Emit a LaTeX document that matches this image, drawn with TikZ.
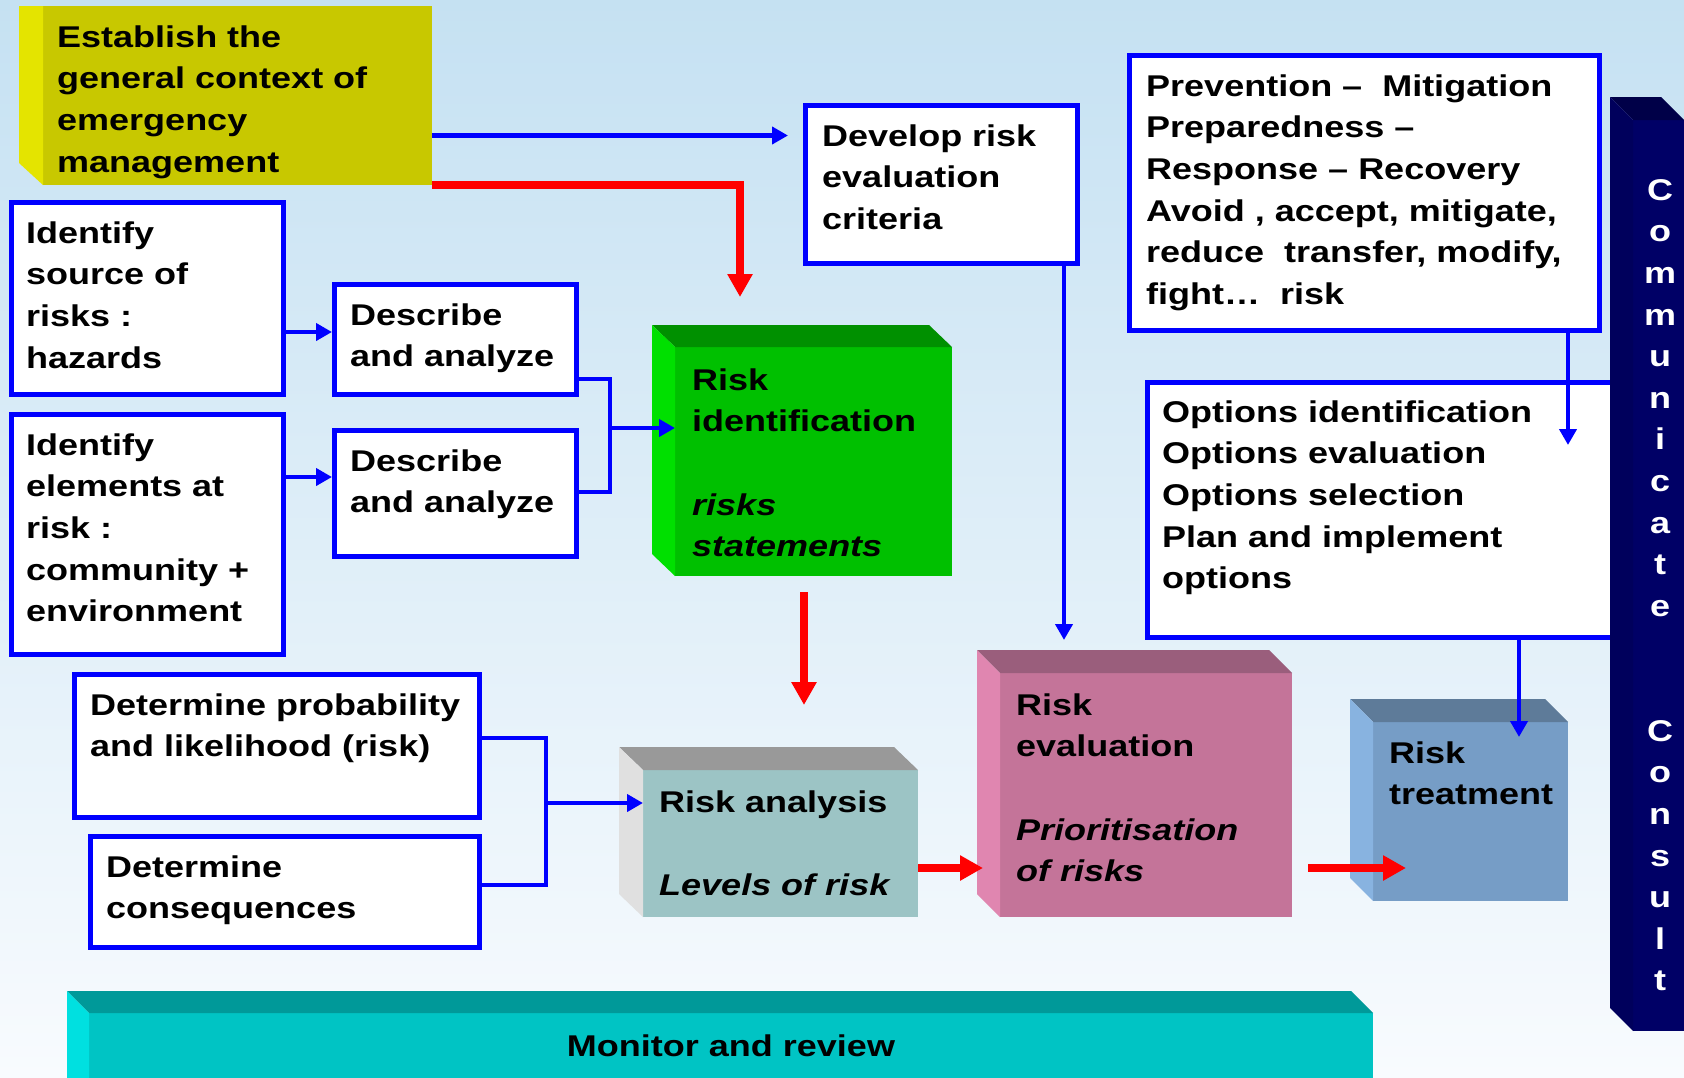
\documentclass[tikz,border=0pt]{standalone}
\usepackage{fontspec}
\setmainfont{Liberation Sans}[FakeStretch=1.2]
\usetikzlibrary{arrows.meta,positioning}

\definecolor{bgtop}{RGB}{197,225,242}
\definecolor{bgmid}{RGB}{218,235,247}
\definecolor{bgbot}{RGB}{248,251,254}
\definecolor{ctxfront}{RGB}{200,200,0}
\definecolor{ctxside}{RGB}{228,228,0}
\definecolor{ridfront}{RGB}{0,192,0}
\definecolor{ridtop}{RGB}{0,144,0}
\definecolor{ridside}{RGB}{0,224,0}
\definecolor{ranfront}{RGB}{156,196,197}
\definecolor{rantop}{RGB}{153,153,153}
\definecolor{ranside}{RGB}{224,224,224}
\definecolor{revfront}{RGB}{196,116,153}
\definecolor{revtop}{RGB}{154,94,124}
\definecolor{revside}{RGB}{224,134,176}
\definecolor{rtrfront}{RGB}{118,157,198}
\definecolor{rtrtop}{RGB}{94,123,153}
\definecolor{rtrside}{RGB}{136,179,224}
\definecolor{monfront}{RGB}{0,196,196}
\definecolor{montop}{RGB}{0,153,153}
\definecolor{monside}{RGB}{0,224,224}
\definecolor{comfront}{RGB}{0,0,102}
\definecolor{comtop}{RGB}{0,0,72}
\definecolor{comside}{RGB}{0,0,92}
\definecolor{lineblue}{RGB}{0,0,255}
\definecolor{linered}{RGB}{255,0,0}

\begin{document}
\begin{tikzpicture}[x=1pt,y=-1pt,>={Triangle[length=16pt,width=17pt]},
  wbox/.style={draw=lineblue,line width=5pt,fill=white,anchor=north west,inner sep=0pt},
  front/.style={anchor=north west,inner sep=0pt,outer sep=0pt},
  txt/.style={anchor=north west,inner sep=0pt,align=left,font=\fontsize{30}{41.6}\selectfont\bfseries},
  bline/.style={draw=lineblue,line width=4.5pt},
  barrow/.style={->,draw=lineblue,line width=4.5pt},
  rarrow/.style={-{Triangle[length=23pt,width=24pt]},draw=linered,line width=7.5pt}]

  \useasboundingbox (0,0) rectangle (1684,1077);
  \clip (0,0) rectangle (1684,1077);
  \shade[top color=bgtop,middle color=bgmid,bottom color=bgbot] (0,0) rectangle (1684,1077);

  \node (ctx) [front,fill=ctxfront,minimum width=389pt,minimum height=179pt] at (43,6) {};
  \fill[ctxside] (ctx.north west) -- ++(-24,0) -- ([shift={(-24,-22)}]ctx.south west) -- (ctx.south west) -- cycle;
  \node (ctxT) [txt,below right=12pt and 14pt of ctx.north west] {\strut Establish the\\general context of\\emergency\\management};

  \node (src) [wbox,minimum width=272pt,minimum height=192pt] at (9,200) {};
  \node (elem) [wbox,minimum width=272pt,minimum height=240pt] at (9,412) {};
  \node (dscA) [wbox,minimum width=242pt,minimum height=110pt] at (332,282) {};
  \node (dscB) [wbox,minimum width=242pt,minimum height=126pt] at (332,428) {};
  \node (prob) [wbox,minimum width=405pt,minimum height=143pt] at (72,672) {};
  \node (cons) [wbox,minimum width=389pt,minimum height=111pt] at (88,834) {};
  \node (crit) [wbox,minimum width=272pt,minimum height=158pt] at (803,103) {};
  \node (prev) [wbox,minimum width=470pt,minimum height=275pt] at (1127,53) {};
  \node (opts) [wbox,minimum width=490pt,minimum height=255pt] at (1145,380) {};

  \node (srcT) [txt,below right=14pt and 17pt of src.north west] {\strut Identify\\source of\\risks :\\hazards};
  \node (elemT) [txt,below right=14pt and 17pt of elem.north west] {\strut Identify\\elements at\\risk :\\community +\\environment};
  \node (dscAT) [txt,below right=14pt and 18pt of dscA.north west] {\strut Describe\\and analyze};
  \node (dscBT) [txt,below right=14pt and 18pt of dscB.north west] {\strut Describe\\and analyze};
  \node (probT) [txt,below right=14pt and 18pt of prob.north west] {\strut Determine probability\\and likelihood (risk)};
  \node (consT) [txt,below right=14pt and 18pt of cons.north west] {\strut Determine\\consequences};
  \node (critT) [txt,below right=14pt and 19pt of crit.north west] {\strut Develop risk\\evaluation\\criteria};
  \node (prevT) [txt,below right=14pt and 19pt of prev.north west] {\strut Prevention – \ Mitigation\\Preparedness –\\Response – Recovery\\Avoid , accept, mitigate,\\reduce \ transfer, modify,\\fight… \ risk};
  \node (optsT) [txt,below right=13pt and 17pt of opts.north west] {\strut Options identification\\Options evaluation\\Options selection\\Plan and implement\\options};

  \node (rid) [front,fill=ridfront,minimum width=277pt,minimum height=229pt] at (675,347) {};
  \fill[ridtop] (rid.north west) -- ++(-23,-22) -- ([shift={(-23,-22)}]rid.north east) -- (rid.north east) -- cycle;
  \fill[ridside] (rid.north west) -- ++(-23,-22) -- ([shift={(-23,-22)}]rid.south west) -- (rid.south west) -- cycle;
  \node (ridT) [txt,below right=14pt and 17pt of rid.north west] {\strut Risk\\identification\\[41.6pt]\textit{risks}\\\textit{statements}};

  \node (ran) [front,fill=ranfront,minimum width=275pt,minimum height=147pt] at (643,770) {};
  \fill[rantop] (ran.north west) -- ++(-24,-23) -- ([shift={(-24,-23)}]ran.north east) -- (ran.north east) -- cycle;
  \fill[ranside] (ran.north west) -- ++(-24,-23) -- ([shift={(-24,-23)}]ran.south west) -- (ran.south west) -- cycle;
  \node (ranT) [txt,below right=13pt and 16pt of ran.north west] {\strut Risk analysis\\[41.6pt]\textit{Levels of risk}};

  \node (rev) [front,fill=revfront,minimum width=292pt,minimum height=244pt] at (1000,673) {};
  \fill[revtop] (rev.north west) -- ++(-23,-23) -- ([shift={(-23,-23)}]rev.north east) -- (rev.north east) -- cycle;
  \fill[revside] (rev.north west) -- ++(-23,-23) -- ([shift={(-23,-23)}]rev.south west) -- (rev.south west) -- cycle;
  \node (revT) [txt,below right=13pt and 16pt of rev.north west] {\strut Risk\\evaluation\\[41.6pt]\textit{Prioritisation}\\\textit{of risks}};

  \node (rtr) [front,fill=rtrfront,minimum width=195pt,minimum height=179pt] at (1373,722) {};
  \fill[rtrtop] (rtr.north west) -- ++(-23,-23) -- ([shift={(-23,-23)}]rtr.north east) -- (rtr.north east) -- cycle;
  \fill[rtrside] (rtr.north west) -- ++(-23,-23) -- ([shift={(-23,-23)}]rtr.south west) -- (rtr.south west) -- cycle;
  \node (rtrT) [txt,below right=12pt and 16pt of rtr.north west] {\strut Risk\\treatment};

  \node (com) [front,fill=comfront,minimum width=51pt,minimum height=911pt] at (1633,120) {};
  \fill[comtop] (com.north west) -- ++(-23,-23) -- ([shift={(-23,-23)}]com.north east) -- (com.north east) -- cycle;
  \fill[comside] (com.north west) -- ++(-23,-23) -- ([shift={(-23,-23)}]com.south west) -- (com.south west) -- cycle;
  \node (comT) [anchor=north,inner sep=0pt,align=center,text=white,font=\fontsize{30}{41.6}\selectfont\bfseries] at (1660,171)
    {\strut C\\o\\m\\m\\u\\n\\i\\c\\a\\t\\e\\[83.4pt]C\\o\\n\\s\\u\\l\\t};

  \node (mon) [front,fill=monfront,minimum width=1284pt,minimum height=90pt] at (89,1013) {};
  \fill[montop] (mon.north west) -- ++(-22,-22) -- ([shift={(-22,-22)}]mon.north east) -- (mon.north east) -- cycle;
  \fill[monside] (mon.north west) -- ++(-22,-22) -- ([shift={(-22,-22)}]mon.south west) -- (mon.south west) -- cycle;
  \node (monT) [anchor=base,inner sep=0pt,font=\fontsize{30}{41.6}\selectfont\bfseries] at (731,1056) {Monitor and review};

  \coordinate (ctxA) at ([yshift=-40pt]ctx.east);
  \coordinate (ridIn) at (740,297);
  \coordinate (ridJ) at (610,428);
  \coordinate (revIn) at (1064,640);
  \coordinate (optsIn) at (1568,445);
  \coordinate (rtrIn) at (1519,737);
  \coordinate (ranJ) at (546,803);
  \coordinate (ranIn) at (804,705);

  \draw[barrow,shorten >=15pt] (ctxA) -- (ctxA -| crit.west);
  \draw[rarrow] (ctx.south east) -| (ridIn);
  \draw[barrow] (src.east |- 0,332) -- (dscA.west |- 0,332);
  \draw[barrow] (elem.east |- 0,477) -- (dscB.west |- 0,477);
  \draw[bline] (dscA.east |- 0,379) -| (ridJ) |- (dscB.east |- 0,492);
  \draw[barrow] (ridJ) -- (rid.west |- ridJ);
  \draw[barrow] (crit.south -| revIn) -- (revIn);
  \draw[barrow] (prev.south -| optsIn) -- (optsIn);
  \draw[barrow] (opts.south -| rtrIn) -- (rtrIn);
  \draw[bline] (prob.east |- 0,738) -| (ranJ) |- (cons.east |- 0,885);
  \draw[barrow] (ranJ) -- (ran.west |- ranJ);
  \draw[rarrow,shorten <=16pt] (rid.south -| ranIn) -- (ranIn);
  \draw[rarrow,shorten >=17pt] (ran.east |- 0,868) -- (rev.west |- 0,868);
  \draw[rarrow,shorten <=16pt,shorten >=-33pt] (rev.east |- 0,868) -- (rtr.west |- 0,868);
\end{tikzpicture}
\end{document}
